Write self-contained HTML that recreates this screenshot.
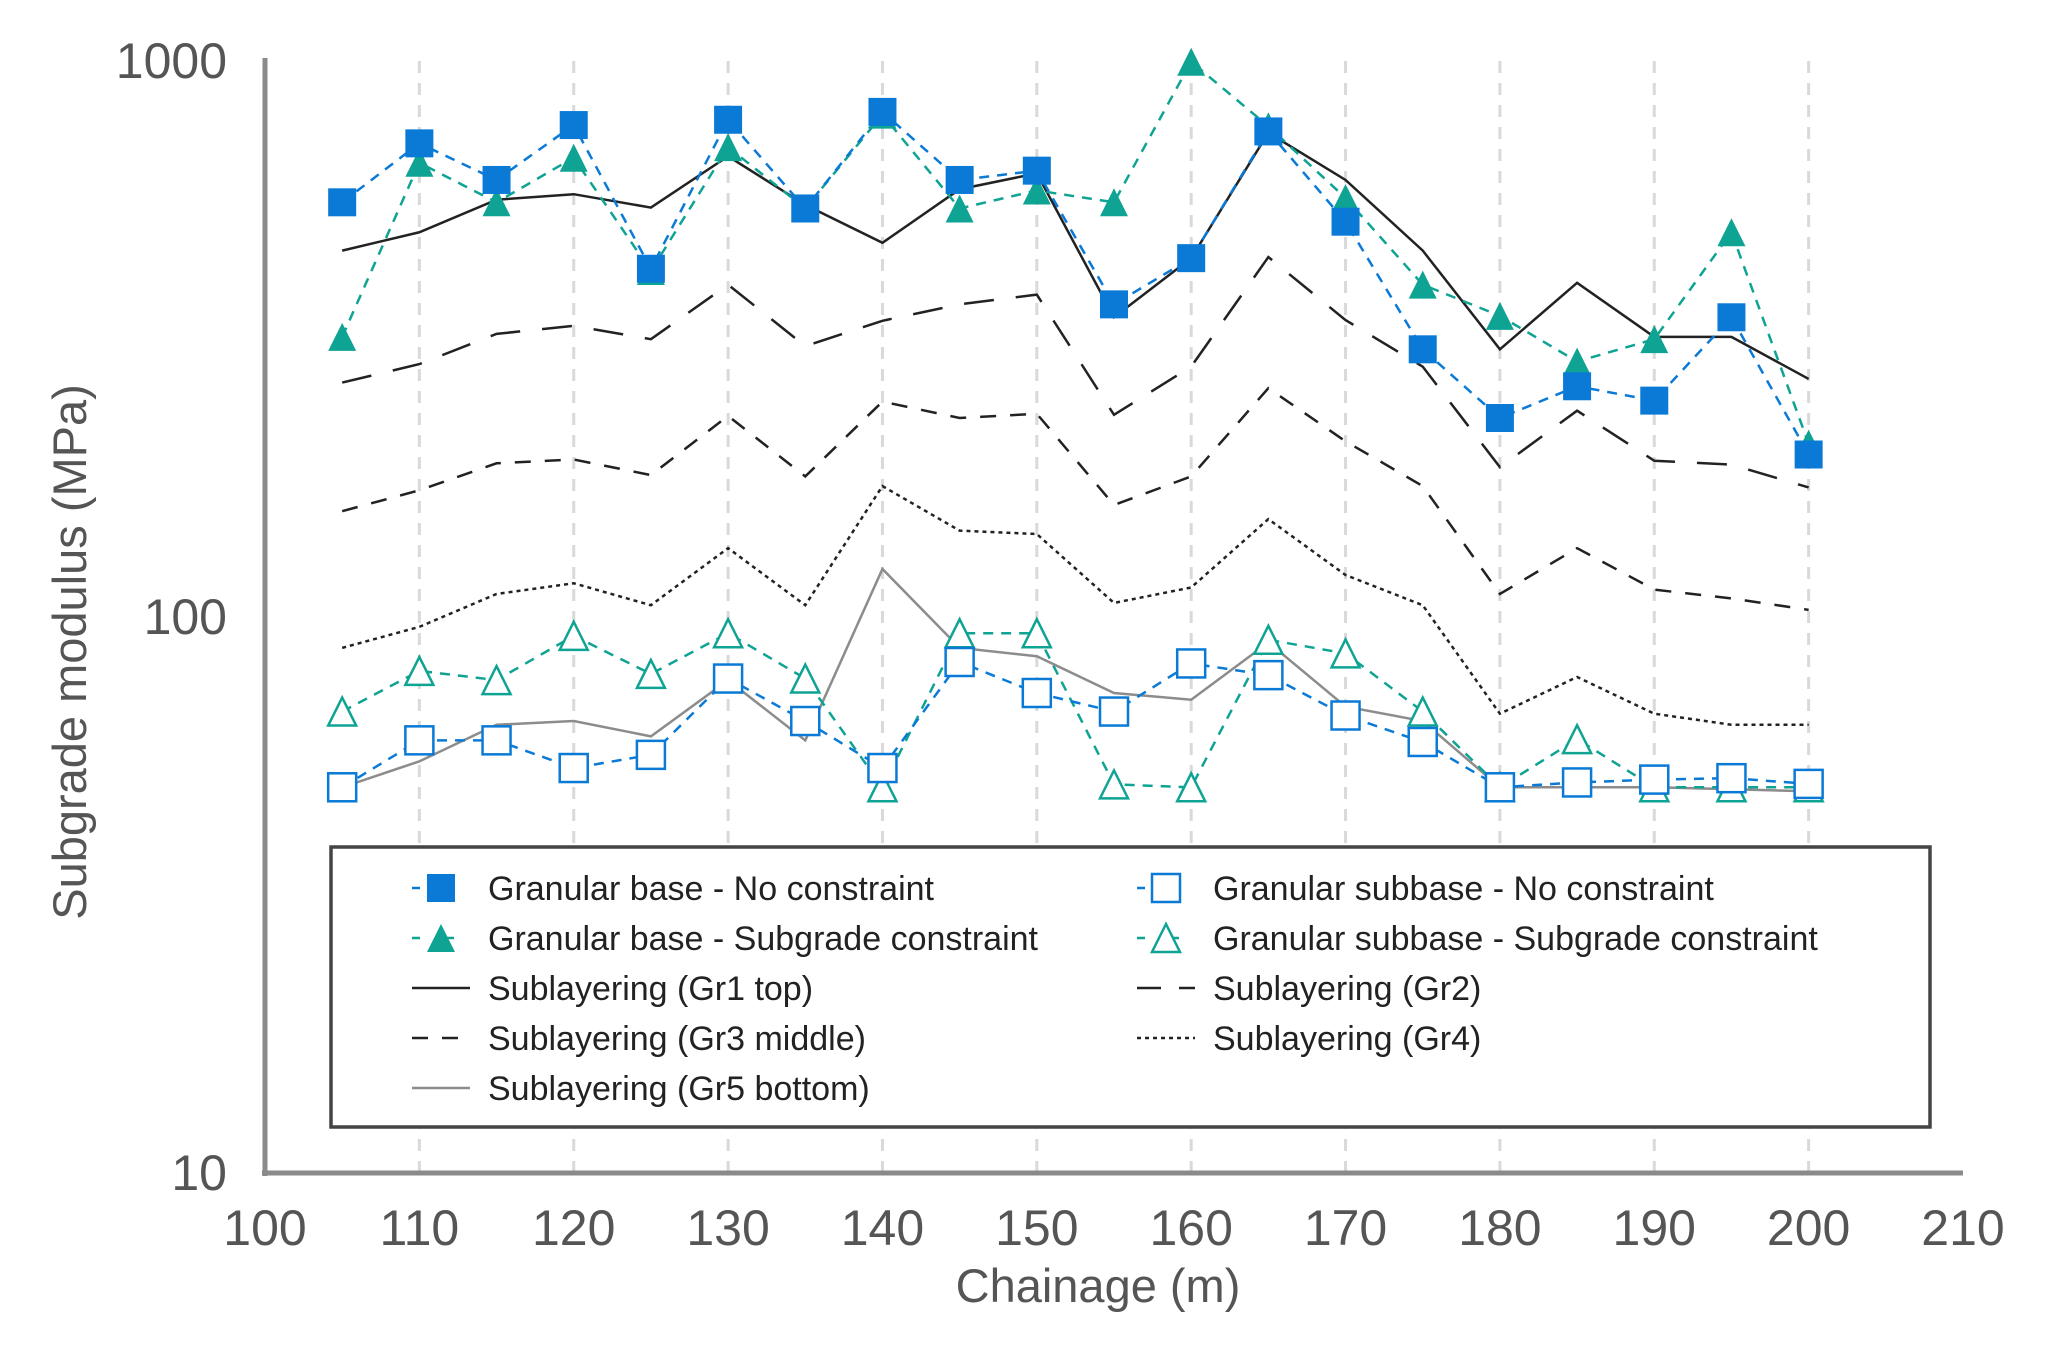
<!DOCTYPE html>
<html><head><meta charset="utf-8"><style>
html,body{margin:0;padding:0;background:#fff;}
svg{display:block;font-family:"Liberation Sans",sans-serif;}
</style></head><body>
<svg id="chart" width="2048" height="1371" viewBox="0 0 2048 1371" xmlns="http://www.w3.org/2000/svg"></svg>
<script>
const chainage=[105,110,115,120,125,130,135,140,145,150,155,160,165,170,175,180,185,190,195,200];
const baseNoConstraint=[557,711,611,767,423,784,543,810,611,635,365,442,747,514,303,228,260,245,346,196];
const baseSubgrade=[319,656,557,670,419,700,543,801,543,585,557,997,763,567,396,348,288,316,492,205];
const gr1=[456,492,563,576,545,674,551,471,588,628,346,442,743,611,456,303,399,319,319,268];
const gr2=[264,285,323,334,316,396,307,341,365,380,231,282,444,342,282,186,235,191,188,171];
const gr3=[155,169,189,192,180,230,179,244,228,232,159,179,258,207,172,110,133,112,108,103];
const gr4=[88,96,110,115,105,133,105,172,143,141,106,113,150,119,105,67,78,67,64,64];
const gr5=[49.4,55,64,65,61,77,60,122,88,85,73,71,90,69,65,49.4,49.4,49.4,49,48.6];
const subNoConstraint=[49.4,60,60,53.5,56.5,77.5,65,53.5,83,73,67.6,82.5,78.6,66.5,59.6,49.4,50.4,51,51.3,50.1];
const subSubgrade=[67.6,80,77,92.5,79,93.5,77.5,49.4,93.5,93.5,50,49.4,91,86,67.6,49.4,60.3,49.4,49.4,49.4];
const xTicks=[100,110,120,130,140,150,160,170,180,190,200,210];
const yTicks=[10,100,1000];

const NS="http://www.w3.org/2000/svg";
const svg=document.getElementById('chart');
const X0=265,X1=1963,YT=61,YB=1173;
const xs=v=>X0+(v-100)/110*(X1-X0);
const ys=v=>YB-(Math.log10(v)-1)/2*(YB-YT);
function mk(tag,attrs,parent){const e=document.createElementNS(NS,tag);for(const k in attrs)e.setAttribute(k,attrs[k]);(parent||svg).appendChild(e);return e;}
const BLUE="#0a7ad6",TEAL="#0fa393";

for(const t of xTicks){ if(t===100||t===210) continue;
  const g=mk('line',{x1:xs(t),x2:xs(t),y1:YT,y2:YB,stroke:'#d9d9d9','stroke-width':3,'stroke-dasharray':'12,10'});
  
  
}
const ya=mk('line',{x1:X0,x2:X0,y1:YT-3,y2:YB+3,stroke:'#8a8a8a','stroke-width':5});


const xa=mk('line',{x1:X0-3,x2:X1,y1:YB,y2:YB,stroke:'#8a8a8a','stroke-width':5});


for(const t of xTicks){
  const tx=mk('text',{x:xs(t),y:1245,'text-anchor':'middle','font-size':50,fill:'#555'});
  tx.textContent=t;
  
  
}
for(const t of yTicks){
  const tx=mk('text',{x:227,y:ys(t)+17,'text-anchor':'end','font-size':50,fill:'#555'});
  tx.textContent=t;
  
  
}
const xt=mk('text',{x:1098,y:1302,'text-anchor':'middle','font-size':47,fill:'#555'});
xt.textContent='Chainage (m)';


const yt=mk('text',{x:0,y:0,'text-anchor':'middle','font-size':47,fill:'#555',transform:'translate(86,652) rotate(-90)'});
yt.textContent='Subgrade modulus (MPa)';



function line(vals,attrs,name){
  const pts=vals.map((v,i)=>xs(chainage[i])+','+ys(v)).join(' ');
  const p=mk('polyline',Object.assign({points:pts,fill:'none'},attrs));
  
  
}
function marker(type,cx,cy,col,open,parent){
  const s=14;
  const fill=open?'#fff':col, sw=open?2.5:0;
  if(type==='sq') return mk('rect',{x:cx-s,y:cy-s,width:2*s,height:2*s,fill:fill,stroke:col,'stroke-width':sw},parent);
  return mk('polygon',{points:`${cx},${cy-s} ${cx+s},${cy+s} ${cx-s},${cy+s}`,fill:fill,stroke:col,'stroke-width':sw},parent);
}
line(gr5,{stroke:'#8c8c8c','stroke-width':2.5},'series-gr5-bottom');
line(gr4,{stroke:'#222','stroke-width':2.5,'stroke-dasharray':'4,4'},'series-gr4');
line(gr3,{stroke:'#222','stroke-width':2.5,'stroke-dasharray':'16,14'},'series-gr3-middle');
line(gr2,{stroke:'#222','stroke-width':2.5,'stroke-dasharray':'30,22'},'series-gr2');
line(gr1,{stroke:'#222','stroke-width':2.5},'series-gr1-top');
line(subSubgrade,{stroke:TEAL,'stroke-width':2.5,'stroke-dasharray':'10,8'},'series-subbase-subgrade');
line(subNoConstraint,{stroke:BLUE,'stroke-width':2.5,'stroke-dasharray':'10,8'},'series-subbase-no-constraint');
line(baseSubgrade,{stroke:TEAL,'stroke-width':2.5,'stroke-dasharray':'10,8'},'series-base-subgrade');
line(baseNoConstraint,{stroke:BLUE,'stroke-width':2.5,'stroke-dasharray':'10,8'},'series-base-no-constraint');
subSubgrade.forEach((v,i)=>{const m=marker('tri',xs(chainage[i]),ys(v),TEAL,true);
  
  });
subNoConstraint.forEach((v,i)=>{const m=marker('sq',xs(chainage[i]),ys(v),BLUE,true);
  
  });
baseSubgrade.forEach((v,i)=>{const m=marker('tri',xs(chainage[i]),ys(v),TEAL,false);
  
  });
baseNoConstraint.forEach((v,i)=>{const m=marker('sq',xs(chainage[i]),ys(v),BLUE,false);
  
  });

const lg=mk('g',{});


mk('rect',{x:331,y:847,width:1599,height:280,fill:'#fff',stroke:'#444','stroke-width':3.5},lg);
const entries=[
 [441,888,'Granular base - No constraint','sq',BLUE,null],
 [441,938,'Granular base - Subgrade constraint','tri',TEAL,null],
 [441,988,'Sublayering (Gr1 top)',null,'#222',''],
 [441,1038,'Sublayering (Gr3 middle)',null,'#222','16,14'],
 [441,1088,'Sublayering (Gr5 bottom)',null,'#8c8c8c',''],
 [1166,888,'Granular subbase - No constraint','osq',BLUE,null],
 [1166,938,'Granular subbase - Subgrade constraint','otri',TEAL,null],
 [1166,988,'Sublayering (Gr2)',null,'#222','24,18'],
 [1166,1038,'Sublayering (Gr4)',null,'#222','4,4'],
];
for(const [cx,cy,label,m,col,dash] of entries){
  const g=mk('g',{},lg);
  
  
  const l=mk('line',{x1:cx-29,x2:cx+29,y1:cy,y2:cy,stroke:col,'stroke-width':2.5},g);
  if(m) l.setAttribute('stroke-dasharray','8,26');
  else if(dash) l.setAttribute('stroke-dasharray',dash);
  if(m==='sq') marker('sq',cx,cy,col,false,g);
  if(m==='tri') marker('tri',cx,cy,col,false,g);
  if(m==='osq') marker('sq',cx,cy,col,true,g);
  if(m==='otri') marker('tri',cx,cy,col,true,g);
  const t=mk('text',{x:cx+47,y:cy+12,'font-size':34,fill:'#222'},g);
  t.textContent=label;
}
</script>
</body></html>
